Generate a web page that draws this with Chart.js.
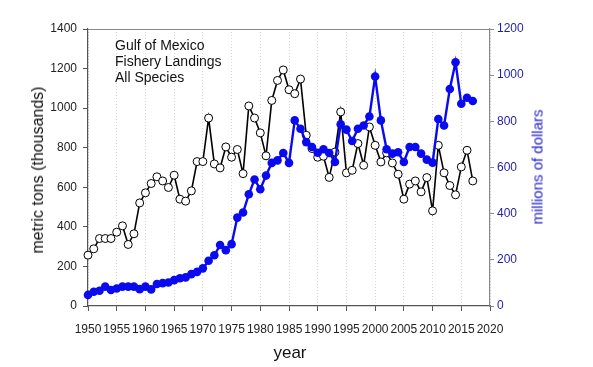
<!DOCTYPE html>
<html>
<head>
<meta charset="utf-8">
<script src="https://cdn.jsdelivr.net/npm/chart.js@4/dist/chart.umd.min.js"></script>
<style>
  body { margin: 0; background: #fff; }
  #wrap { position: relative; width: 593px; height: 367px; font-family: Arial, "Liberation Sans", sans-serif; }
  .lbl { position: absolute; white-space: nowrap; }
  .rot { transform: translate(-50%, -50%) rotate(-90deg); }
</style>
</head>
<body>
<div id="wrap">
  <canvas id="grafico" width="593" height="367"></canvas>
  <div class="lbl" style="left:115px; top:37px; font-size:14px; line-height:16.2px; color:#111">Gulf of Mexico<br>Fishery Landings<br>All Species</div>
  <div class="lbl rot" style="left:38px; top:170px; font-size:16px; color:#111">metric tons (thousands)</div>
  <div class="lbl rot" style="left:537px; top:167px; font-size:15px; color:#2323c8">millions of dollars</div>
  <div class="lbl" style="left:290px; top:353px; transform:translate(-50%,-50%); font-size:17px; color:#111">year</div>
</div>
<script>
// anos 1950 - 2017
const anos = []
for (let a = 1950; a <= 2017; a++) anos.push(a)

// desembarques (mil toneladas)
const toneladas = [
  257, 289, 341, 341, 341, 373, 405, 311, 365, 521,
  572, 619, 653, 632, 599, 661, 540, 530, 582, 730,
  730, 950, 718, 698, 804, 752, 791, 669, 1011, 950,
  875, 759, 1039, 1140, 1193, 1093, 1073, 1147, 863, 796,
  752, 757, 650, 778, 981, 673, 686, 821, 711, 905,
  812, 728, 774, 723, 666, 540, 616, 632, 577, 649,
  481, 812, 673, 609, 562, 703, 787, 632
]

// valor (milhoes de dolares)
const dolares = [
  48, 62, 66, 84, 69, 76, 84, 84, 84, 73,
  84, 72, 95, 99, 102, 112, 120, 124, 138, 148,
  163, 196, 220, 264, 242, 268, 383, 405, 484, 548,
  506, 565, 620, 631, 663, 620, 804, 768, 710, 689,
  664, 679, 663, 624, 787, 764, 715, 768, 782, 821,
  994, 804, 679, 660, 666, 624, 689, 689, 660, 634,
  621, 810, 782, 940, 1056, 876, 902, 888
]

const ticksX = [1950, 1955, 1960, 1965, 1970, 1975, 1980, 1985, 1990, 1995, 2000, 2005, 2010, 2015, 2020]
const ticksToneladas = [0, 200, 400, 600, 800, 1000, 1200, 1400]
const ticksDolares = [0, 200, 400, 600, 800, 1000, 1200]

const fonteTick = { family: 'Arial, "Liberation Sans", sans-serif', size: 12 }

// linha cinza no topo da area do grafico
const bordaTopo = {
  id: 'bordaTopo',
  afterDraw(chart) {
    const { ctx, chartArea } = chart
    ctx.save()
    ctx.strokeStyle = '#8a8a8a'
    ctx.lineWidth = 1.2
    ctx.beginPath()
    ctx.moveTo(chartArea.left, chartArea.top + 0.5)
    ctx.lineTo(chartArea.right, chartArea.top + 0.5)
    ctx.stroke()
    ctx.restore()
  }
}

const ctx = document.getElementById('grafico').getContext('2d')

new Chart(ctx, {
  type: 'line',
  data: {
    datasets: [
      {
        label: 'millions of dollars',
        data: anos.map((a, i) => ({ x: a, y: dolares[i] })),
        yAxisID: 'y1',
        borderColor: '#0a0aee',
        backgroundColor: '#0a0aee',
        borderWidth: 2.4,
        pointRadius: 4.3,
        pointBorderWidth: 0,
        pointBackgroundColor: '#0a0aee',
        tension: 0,
        clip: false
      },
      {
        label: 'metric tons (thousands)',
        data: anos.map((a, i) => ({ x: a, y: toneladas[i] })),
        yAxisID: 'y',
        borderColor: '#000',
        backgroundColor: '#fff',
        borderWidth: 1.6,
        pointRadius: 4,
        pointBorderWidth: 1,
        pointBackgroundColor: '#fff',
        pointBorderColor: '#000',
        tension: 0,
        clip: false
      }
    ]
  },
  options: {
    responsive: false,
    animation: false,
    devicePixelRatio: 1,
    layout: { padding: { top: 29, left: 0, right: 0, bottom: 0 } },
    plugins: { legend: { display: false }, tooltip: { enabled: false } },
    scales: {
      x: {
        type: 'linear',
        min: 1950,
        max: 2020,
        afterBuildTicks: s => { s.ticks = ticksX.map(v => ({ value: v })) },
        afterFit: s => { s.height = 61 },
        ticks: { color: '#222', font: fonteTick, padding: 11, maxRotation: 0, autoSkip: false, callback: v => String(v) },
        grid: { color: '#d8d8d8', lineWidth: 1, tickColor: '#555', tickLength: 5, tickWidth: 1 },
        border: { color: '#555', width: 1.2, dash: [1, 2] }
      },
      y: {
        position: 'left',
        min: 0,
        max: 1400,
        afterBuildTicks: s => { s.ticks = ticksToneladas.map(v => ({ value: v })) },
        afterFit: s => { s.width = 88 },
        ticks: { color: '#222', font: fonteTick, padding: 6, callback: v => String(v) },
        grid: { drawOnChartArea: false, color: '#555', tickLength: 5 },
        border: { color: '#555', width: 1.2 }
      },
      y1: {
        position: 'right',
        min: 0,
        max: 1200,
        afterBuildTicks: s => { s.ticks = ticksDolares.map(v => ({ value: v })) },
        afterFit: s => { s.width = 103 },
        ticks: { color: '#1f1fa5', font: fonteTick, padding: 3, callback: v => String(v) },
        grid: { drawOnChartArea: false, color: '#888', tickLength: 4 },
        border: { color: '#8a8a8a', width: 1.2 }
      }
    }
  },
  plugins: [bordaTopo]
})
</script>
</body>
</html>
